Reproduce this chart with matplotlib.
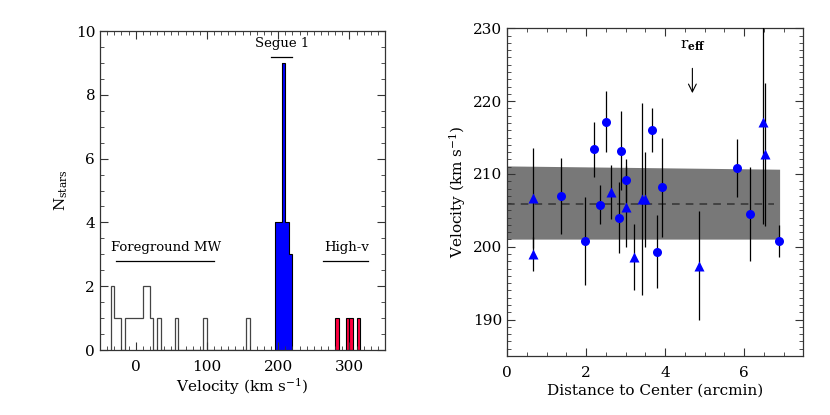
import numpy as np
import matplotlib
matplotlib.use("Agg")
import matplotlib.pyplot as plt
from matplotlib.ticker import MultipleLocator

plt.rcParams["font.family"] = ["DejaVu Serif"]
plt.rcParams["mathtext.fontset"] = "dejavuserif"
plt.rcParams["font.size"] = 10

# histogram (bin edges in km/s, 5 km/s bins)
fg_edges = np.arange(-35, 165, 5)
fg_counts = [2, 1, 1, 0, 1, 1, 1, 1, 1, 2, 2, 1, 0, 1, 0, 0, 0, 0, 1, 0,
             0, 0, 0, 0, 0, 0, 1, 0, 0, 0, 0, 0, 0, 0, 0, 0, 0, 0, 1]
seg_edges = [195, 200, 205, 210, 215, 220]
seg_counts = [4, 4, 9, 4, 3]
hv_edges = [280, 285, 290, 295, 300, 305, 310, 315]
hv_counts = [1, 0, 0, 1, 1, 0, 1]

# velocity vs radius
circ_r = [1.36, 1.96, 2.19, 2.36, 2.51, 2.82, 2.88, 3.00, 3.66, 3.79, 3.92, 5.82, 6.14, 6.89]
circ_v = [207.0, 200.8, 213.4, 205.8, 217.2, 204.0, 213.2, 209.1, 216.0, 199.3, 208.2, 210.8, 204.5, 200.8]
circ_err = [5.2, 6.0, 3.8, 2.7, 4.2, 4.9, 5.4, 2.9, 3.0, 5.0, 6.8, 4.0, 6.4, 2.2]
tri_r = [0.66, 0.66, 2.63, 3.00, 3.20, 3.41, 3.48, 4.85, 6.49, 6.54]
tri_v = [206.7, 199.0, 207.5, 205.5, 198.6, 206.6, 206.5, 197.4, 217.1, 212.7]
tri_err = [6.9, 2.3, 3.7, 5.6, 4.5, 13.2, 6.5, 7.5, 14.0, 9.8]

band_r = [0.0, 6.9]
band_lo = [201.05, 201.05]
band_hi = [211.1, 210.65]
mean_r = [0.0, 6.76]
mean_v = 205.9
r_eff = 4.69

fig = plt.figure(figsize=(8.3, 4.15), dpi=100)
ax1 = fig.add_axes([0.1205, 0.1566, 0.3434, 0.7687])
ax2 = fig.add_axes([0.6112, 0.1422, 0.3566, 0.7896])

# --- left: histogram
ax1.stairs(fg_counts, fg_edges, color="#444444", lw=0.9)
ax1.stairs(seg_counts, seg_edges, fill=True, color="#0000ff")
ax1.stairs(seg_counts, seg_edges, color="black", lw=0.8)
for e0, e1, c in zip(hv_edges[:-1], hv_edges[1:], hv_counts):
    if c > 0:
        ax1.bar(e0, c, width=e1 - e0, align="edge", color="#ff0040",
                edgecolor="black", lw=0.8)

ax1.set_xlim(-50, 350)
ax1.set_ylim(0, 10)
ax1.xaxis.set_major_locator(MultipleLocator(100))
ax1.xaxis.set_minor_locator(MultipleLocator(10))
ax1.yaxis.set_major_locator(MultipleLocator(2))
ax1.yaxis.set_minor_locator(MultipleLocator(0.5))
ax1.set_xlabel(r"Velocity (km s$^{-1}$)", fontsize=11, labelpad=2)
ax1.set_ylabel(r"N$_{\rm stars}$", fontsize=11, labelpad=4)

ax1.text(206, 9.4, "Segue 1", ha="center", va="bottom", fontsize=9.5)
ax1.plot([190.5, 220], [9.2, 9.2], color="black", lw=0.9)
ax1.text(42, 3.02, "Foreground MW", ha="center", va="bottom", fontsize=9.5)
ax1.plot([-28, 110.5], [2.79, 2.79], color="black", lw=0.9)
ax1.text(296, 3.02, "High-v", ha="center", va="bottom", fontsize=9.5)
ax1.plot([262.5, 326.5], [2.79, 2.79], color="black", lw=0.9)

# --- right: velocity vs distance
ax2.fill_between(band_r, band_lo, band_hi, color="#787878", lw=0, zorder=1)
ax2.plot(mean_r, [mean_v, mean_v], color="#333333", lw=1.1, dashes=(5, 4), zorder=2)
ax2.errorbar(circ_r, circ_v, yerr=circ_err, fmt="none", ecolor="black", elinewidth=0.9, zorder=3)
ax2.errorbar(tri_r, tri_v, yerr=tri_err, fmt="none", ecolor="black", elinewidth=0.9, zorder=3)
ax2.plot(circ_r, circ_v, "o", color="#0000ff", ms=6.5, mec="none", zorder=4)
ax2.plot(tri_r, tri_v, "^", color="#0000ff", ms=7.5, mec="none", zorder=4)

ax2.annotate("", xy=(r_eff, 221.1), xytext=(r_eff, 224.5),
             arrowprops=dict(arrowstyle="->", color="black", lw=0.8,
                             mutation_scale=14, shrinkA=0, shrinkB=0))
ax2.text(r_eff + 0.02, 226.6, r"r$_{\mathbf{eff}}$", ha="center", va="bottom", fontsize=11)

ax2.set_xlim(0, 7.5)
ax2.set_ylim(185, 230)
ax2.xaxis.set_major_locator(MultipleLocator(2))
ax2.xaxis.set_minor_locator(MultipleLocator(0.5))
ax2.yaxis.set_major_locator(MultipleLocator(10))
ax2.yaxis.set_minor_locator(MultipleLocator(1))
ax2.set_xlabel("Distance to Center (arcmin)", fontsize=11, labelpad=3)
ax2.set_ylabel(r"Velocity (km s$^{-1}$)", fontsize=11)

for ax in (ax1, ax2):
    ax.tick_params(which="both", direction="in", top=True, right=True,
                   labelsize=11, color="#333333")
    ax.tick_params(which="major", length=6, width=0.8)
    ax.tick_params(which="minor", length=3, width=0.6)
    ax.tick_params(axis="x", which="major", pad=7)
    for s in ax.spines.values():
        s.set_linewidth(0.9)
        s.set_color("#333333")

fig.savefig("out.png", dpi=100)
